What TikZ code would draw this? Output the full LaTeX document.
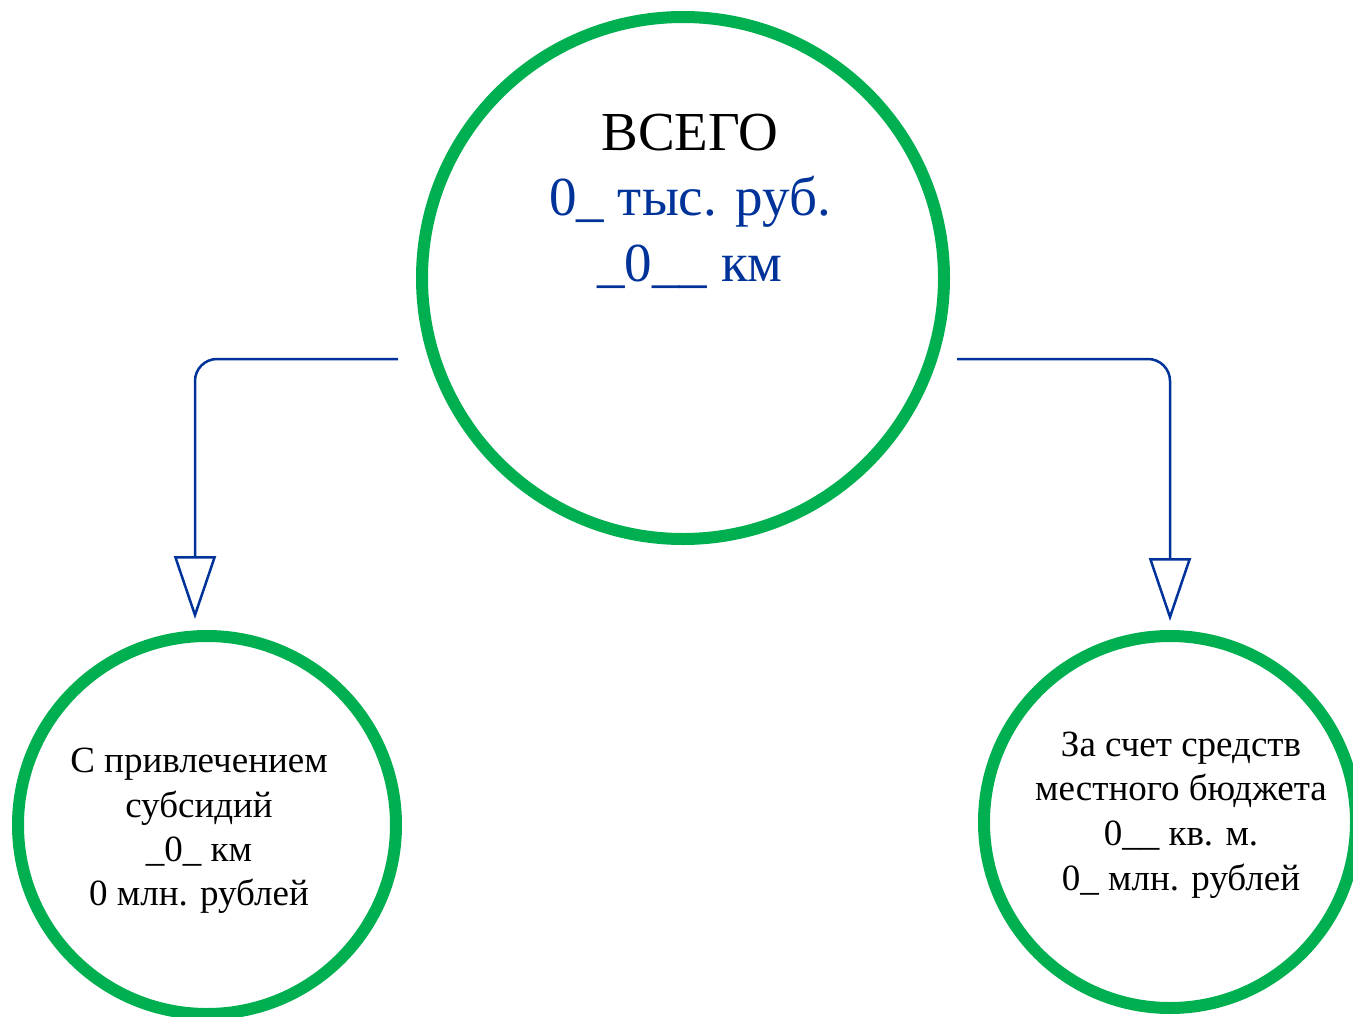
\documentclass[tikz,border=0pt]{standalone}
\usepackage{fontspec}
\setmainfont{Liberation Serif}
\usetikzlibrary{arrows.meta}
\definecolor{ringgreen}{RGB}{0,176,80}
\definecolor{darkblue}{RGB}{0,51,153}
\tikzset{
  ring/.style={circle, draw=ringgreen, line width=12pt, inner sep=0pt},
  bigtxt/.style={anchor=base, inner sep=0pt, font=\fontsize{55}{65}\selectfont},
  smalltxt/.style={anchor=base, inner sep=0pt, font=\fontsize{37}{45}\selectfont},
  conn/.style={draw=darkblue, line width=2.5pt, rounded corners=22pt,
    -{Triangle[open, length=63pt, width=42pt, line width=2.5pt]}}
}
\begin{document}
\begin{tikzpicture}[x=1pt, y=-1pt]
\useasboundingbox (0,0) rectangle (1353,1017);
% circles
\node[ring, minimum size=522pt] (top) at (683,278) {};
\node[ring, minimum size=378pt] (left) at (207,825) {};
\node[ring, minimum size=372pt] (right) at (1170,822) {};
% top text
\node[bigtxt] (t1) at (690,150) {ВСЕГО};
\node[bigtxt, text=darkblue] (t2) at (690,215) {0\_ тыс. руб.};
\node[bigtxt, text=darkblue] (t3) at (690,281) {\_0\_\_ км};
% left text
\node[smalltxt] (l1) at (199,772) {С привлечением};
\node[smalltxt] (l2) at (199,817) {субсидий};
\node[smalltxt] (l3) at (199,861) {\_0\_ км};
\node[smalltxt] (l4) at (199,905) {0 млн. рублей};
% right text
\node[smalltxt] (r1) at (1181,756) {За счет средств};
\node[smalltxt] (r2) at (1181,800) {местного бюджета};
\node[smalltxt] (r3) at (1181,845) {0\_\_ кв. м.};
\node[smalltxt] (r4) at (1181,890) {0\_ млн. рублей};
% connectors
\coordinate (sL) at (398,359);
\coordinate (eL) at (195,619);
\coordinate (sR) at (957,359);
\coordinate (eR) at (1170,621);
\draw[conn] (sL) -| (eL);
\draw[conn] (sR) -| (eR);
\end{tikzpicture}
\end{document}
